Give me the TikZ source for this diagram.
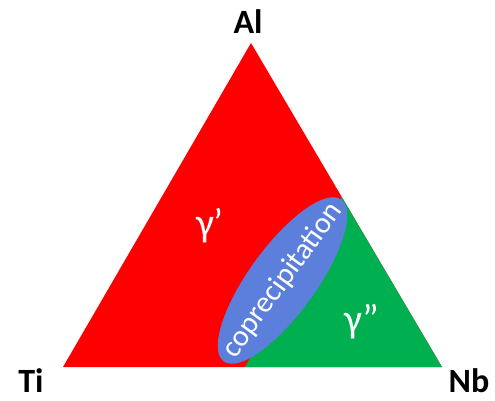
\documentclass[tikz,border=0pt]{standalone}
\usepackage{fontspec}
\setmainfont{Carlito}
\usetikzlibrary{shapes.geometric,calc}
\definecolor{tred}{HTML}{FF0000}
\definecolor{tgreen}{HTML}{00B050}
\definecolor{tblue}{HTML}{5B7FDB}
\tikzset{
  vlabel/.style={font=\fontsize{34}{40}\selectfont\bfseries, text=black, inner sep=0pt},
  phaselabel/.style={font=\fontsize{40}{46}\selectfont, text=white, inner sep=0pt},
  blob/.style={ellipse, fill=tblue, inner sep=0pt},
  blobtext/.style={text=white, inner sep=0pt, font=\fontsize{30}{34}\selectfont}
}
\begin{document}
\begin{tikzpicture}[x=1pt,y=-1pt]
\useasboundingbox[fill=white] (0,0) rectangle (495,401);
\coordinate (Al) at (251,43);
\coordinate (Ti) at (63,367);
\coordinate (Nb) at (442,367);
\fill[tred] (Al) -- (Ti) -- (Nb) -- cycle;
\coordinate (gTop) at ($(Al)!0.475!(Nb)$);
\coordinate (gBot) at ($(Ti)!0.48!(Nb)$);
\fill[tgreen] (gTop) -- (gBot) -- (Nb) -- cycle;
\node[blob, minimum width=200pt, minimum height=67pt, rotate=54] (cop) at (282.5,280.5) {};
\node[blobtext, rotate=54] (coptext) at (cop.center) {coprecipitation};
\node[vlabel] (lAl) at (248,22) {Al};
\node[vlabel] (lTi) at (31,381) {Ti};
\node[vlabel] (lNb) at (469,381) {Nb};
\node[phaselabel] (g1) at (210,226) {γ’};
\node[phaselabel] (g2) at (362,322) {γ”};
\end{tikzpicture}
\end{document}
